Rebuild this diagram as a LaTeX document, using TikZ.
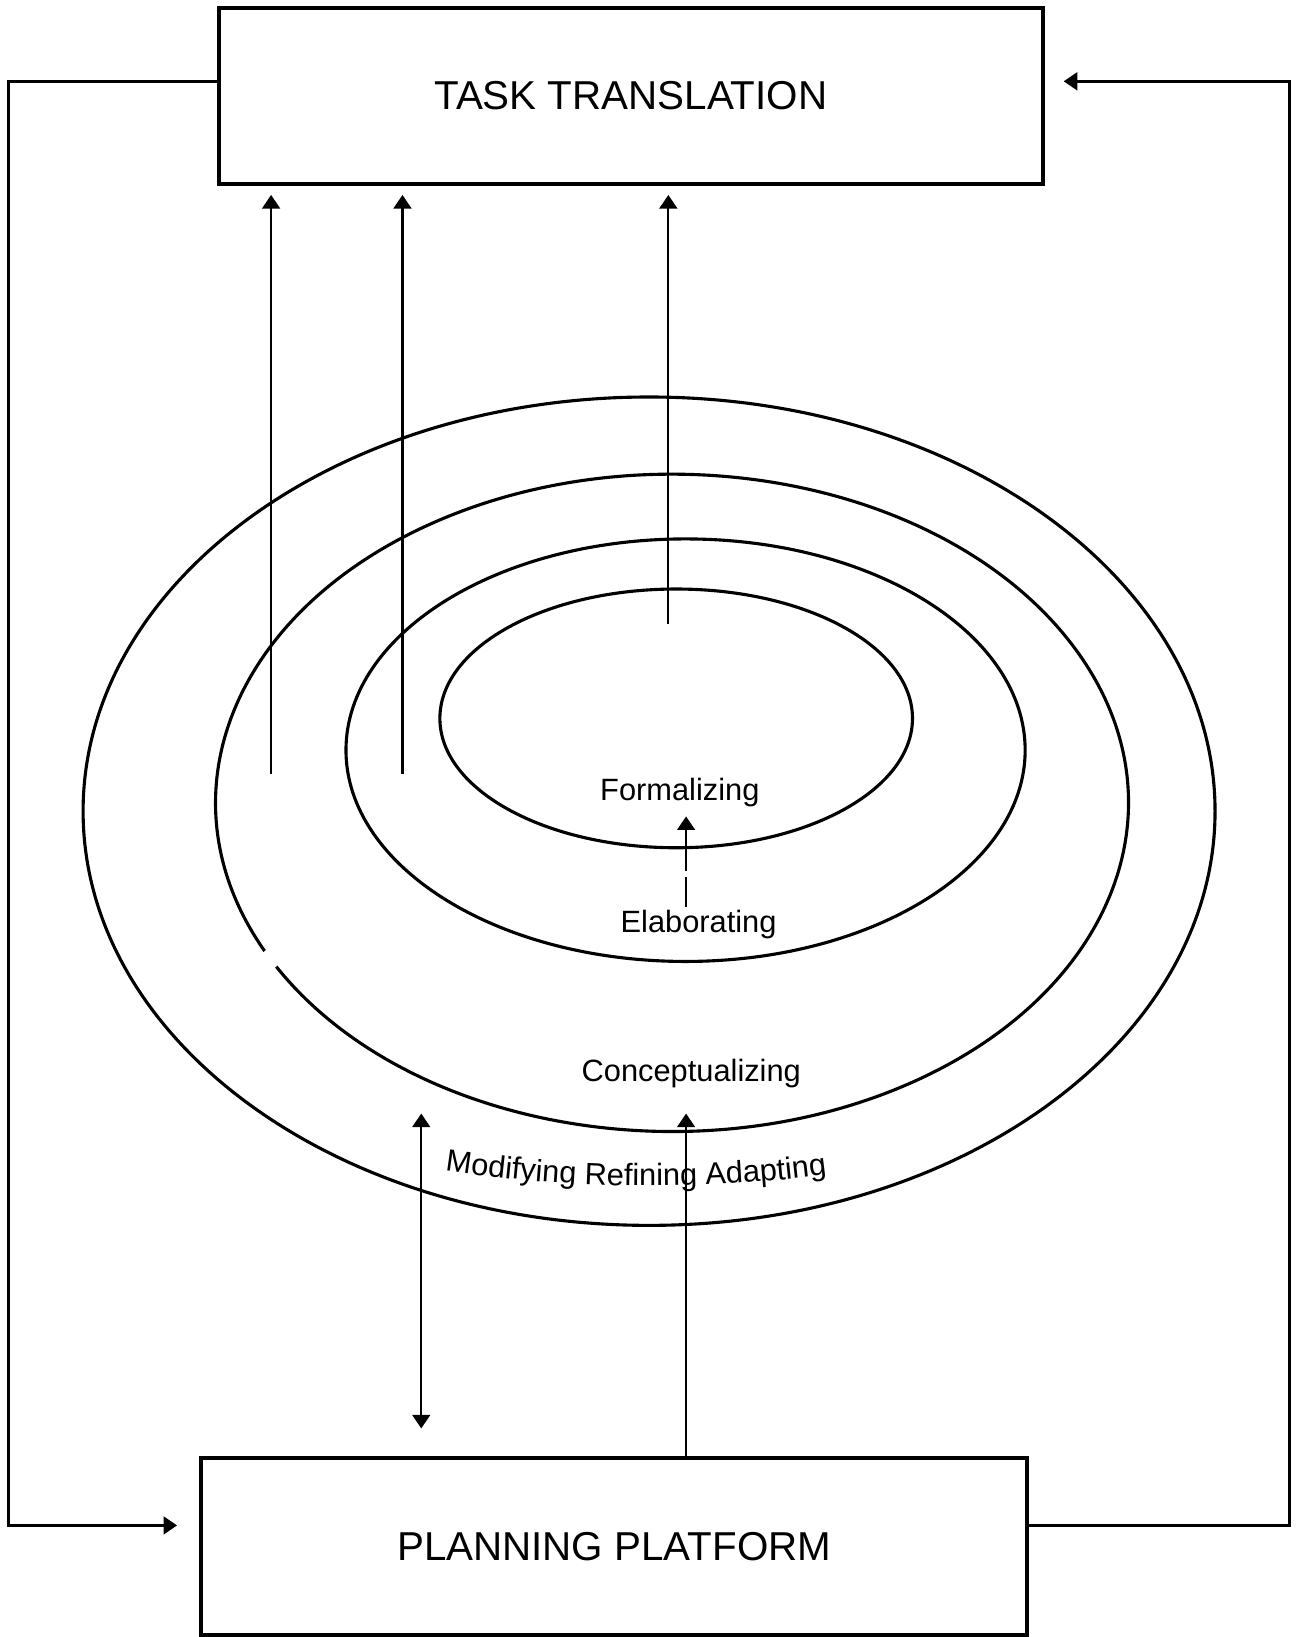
\documentclass[tikz,border=0pt]{standalone}
\usepackage{fontspec}
\setmainfont{Liberation Sans}
\usetikzlibrary{arrows.meta,decorations.text}
\begin{document}
\begin{tikzpicture}[x=0.01cm,y=0.01cm,
  boxnode/.style={draw,line width=1.1pt,minimum width=7.9cm,minimum height=1.68cm,font=\fontsize{11}{13}\selectfont,inner sep=0pt},
  conn/.style={line width=0.6pt},
  loopline/.style={line width=0.75pt},
  tip/.style={-{Triangle[length=1.3mm,width=1.7mm]}},
  ring/.style={line width=0.85pt},
  lbl/.style={font=\fontsize{8.4}{10}\selectfont,inner sep=1pt}]
\useasboundingbox (0,0) rectangle (1250,1570);
% boxes
\node[boxnode] (tt) at (605,1478) {TASK TRANSLATION};
\node[boxnode,minimum width=7.92cm,minimum height=1.70cm] (pp) at (589,87) {PLANNING PLATFORM};
% ellipses
\draw[ring] (622.5,792) ellipse [x radius=5.425cm, y radius=3.97cm];
\draw[ring] (644.5,800) ++(209.9:4.375cm and 3.15cm) arc[start angle=209.9, end angle=566.8, x radius=4.375cm, y radius=3.15cm];
\draw[ring] (657.5,850.5) ellipse [x radius=3.255cm, y radius=2.025cm];
\draw[ring] (648.5,881) ellipse [x radius=2.265cm, y radius=1.24cm];
% labels
\node[lbl] (fo) at (652,810) {Formalizing};
\node[lbl] (el) at (670,683) {Elaborating};
\node[lbl] (co) at (663,540) {Conceptualizing};
\coordinate (t0) at (415,449);
\coordinate (t1) at (545,428);
\coordinate (t2) at (685,428);
\coordinate (t3) at (805,445);
\path[decorate,decoration={text along path,text align=center,text={|\fontsize{8.4}{10}\selectfont|Modifying Refining Adapting}}] (t0) .. controls (t1) and (t2) .. (t3);
% arrows to task translation
\coordinate (a1) at (260,828);
\coordinate (a2) at (386,828);
\coordinate (a3) at (641,972);
\draw[conn,tip,shorten >=0.09cm] (a1) -- (a1 |- tt.south);
\draw[conn,tip,shorten >=0.09cm] (a2) -- (a2 |- tt.south);
\draw[conn,tip,shorten >=0.09cm] (a3) -- (a3 |- tt.south);
% elaborating -> formalizing
\coordinate (f0) at (658,735);
\coordinate (f1) at (658,787);
\coordinate (d0) at (658,700);
\coordinate (d1) at (658,729);
\draw[conn,tip] (f0) -- (f1);
\draw[conn] (d0) -- (d1);
% platform arrows
\coordinate (u1) at (658,502);
\draw[conn,tip] (pp.north -| u1) -- (u1);
\coordinate (m1) at (404,502);
\coordinate (m2) at (404,200);
\draw[conn,{Triangle[length=1.3mm,width=1.7mm]}-{Triangle[length=1.3mm,width=1.7mm]}] (m2) -- (m1);
% feedback loops
\coordinate (la) at (8,1492);
\coordinate (lb) at (8,107);
\draw[loopline,tip,shorten >=0.21cm] (tt.west |- la) -- (la) -- (lb) -- (pp.west |- lb);
\coordinate (ra) at (1237,1492);
\coordinate (rb) at (1237,107);
\draw[loopline,tip,shorten >=0.18cm] (pp.east |- rb) -- (rb) -- (ra) -- (tt.east |- ra);
\end{tikzpicture}
\end{document}
